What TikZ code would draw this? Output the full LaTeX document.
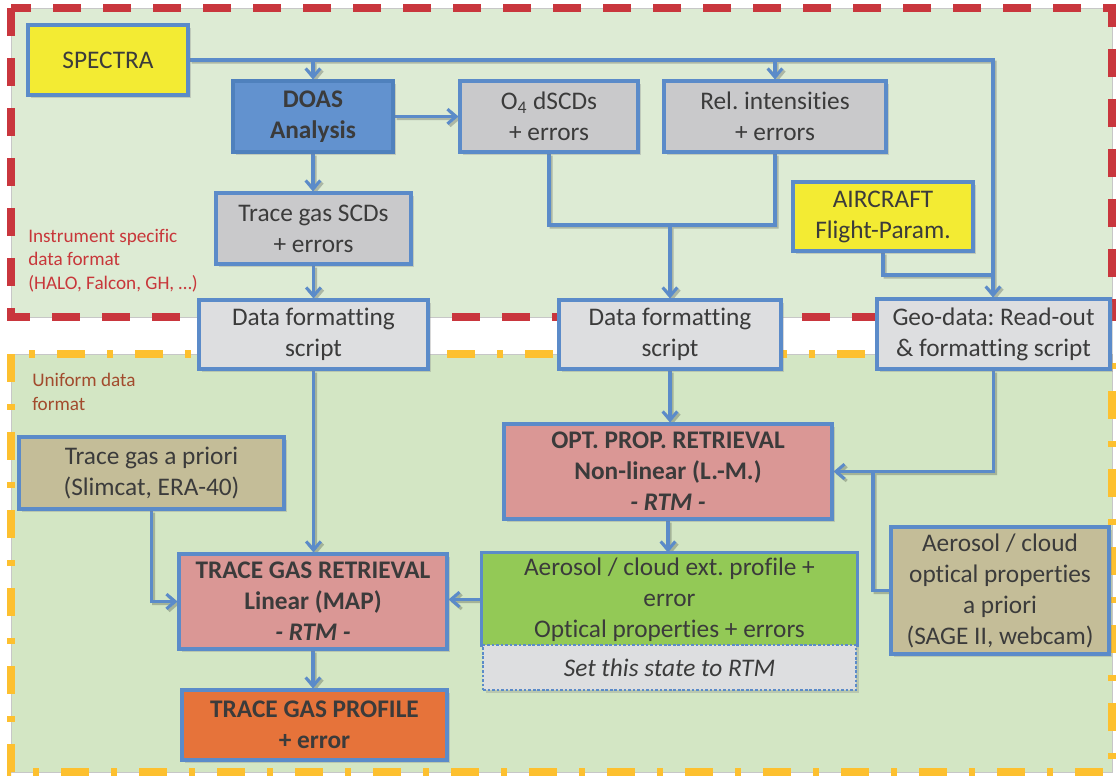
\documentclass[tikz,border=0pt]{standalone}
\usepackage{fontspec}
\setmainfont{Carlito}[Ligatures=NoCommon]
\frenchspacing
\usetikzlibrary{arrows.meta,shadows}
\pgfdeclarelayer{back}
\pgfsetlayers{back,main}

\definecolor{edge}{HTML}{5B8BC9}
\definecolor{edgedark}{HTML}{4F81BD}
\definecolor{ink}{HTML}{3B3B3B}
\definecolor{zoneA}{HTML}{DDEBD4}
\definecolor{zoneB}{HTML}{D3E6C4}
\definecolor{zoneAline}{HTML}{C9363D}
\definecolor{zoneBline}{HTML}{FDC02F}
\definecolor{labA}{HTML}{C8373A}
\definecolor{labB}{HTML}{A24B2D}
\definecolor{yel}{HTML}{F3EB33}
\definecolor{doasblue}{HTML}{6292CF}
\definecolor{midgray}{HTML}{C9C9CB}
\definecolor{lightgray}{HTML}{DDDEE0}
\definecolor{priori}{HTML}{C4BD98}
\definecolor{rose}{HTML}{DA9795}
\definecolor{orng}{HTML}{E6733A}
\definecolor{leaf}{HTML}{93C956}

\newcommand\bodyfont{\fontsize{19}{23.25}\selectfont}
\newcommand\labelfont{\fontsize{14.4}{17.6}\selectfont}

\tikzset{
  box/.style={draw=edge, line width=2.3pt, inner sep=0pt, text=ink,
    align=center, font=\bodyfont,
    drop shadow={shadow xshift=2pt, shadow yshift=-2pt, opacity=0.3}},
  strongbox/.style={box, font=\bodyfont\bfseries},
  size/.style 2 args={minimum width=#1, minimum height=#2},
  zonelabel/.style={inner sep=0pt, align=left, anchor=north west, font=\labelfont},
  link/.style={draw=edge, line width=2.3pt},
  headed/.style={-{Straight Barb[length=6.5pt,width=11pt]}},
  linkshade/.style={draw=black, line width=2.3pt,
    transform canvas={shift={(1.6pt,-1.6pt)}}},
}

% all connectors; #1 is the line style
\newcommand\flowlinks[1]{%
  \draw[#1,headed] (spectra.east) -- (bus) -- (bus |- geo.north);
  \draw[#1,headed] (doas.north |- spectra.east) -- (doas.north);
  \draw[#1,headed] (rel.north |- spectra.east) -- (rel.north);
  \draw[#1,headed] (doas.east) -- (o4.west);
  \draw[#1,headed] (doas.south) -- (doas.south |- scd.north);
  \draw[#1,headed] (scd.south) -- (scd.south |- dfl.north);
  \draw[#1] (o4.south) -- (o4.south |- merge) -- (rel.south |- merge) -- (rel.south);
  \draw[#1,headed] (merge) -- (dfm.north);
  \draw[#1] (air.south) |- (airjoin);
  \draw[#1,headed] (dfl.south) -- (dfl.south |- tgr.north);
  \draw[#1,headed] (apri.south) |- (tgr.west);
  \draw[#1,headed] (aero.west) -- (tgr.east |- aero.west);
  \draw[#1,headed] (tgr.south) -- (tgr.south |- prof.north);
  \draw[#1,headed] (dfm.south) -- (dfm.south |- opt.north);
  \draw[#1,headed] (geo.south) |- (opt.east);
  \draw[#1] (aer.west) -| (aerjoin);
  \draw[#1,headed] (opt.south) -- (opt.south |- aero.north);
}

\begin{document}
\begin{tikzpicture}[x=0.75pt,y=-0.75pt]
\useasboundingbox (0,0) rectangle (1118,778);

% the two zones
\begin{pgfonlayer}{back}
  \fill[white] (0,0) rectangle (1118,778);
  \fill[zoneA] (11,8) rectangle (1112,317);
  \draw[black!22, line width=0.6pt] (11,8) rectangle (1112,317);
  \draw[zoneAline, line width=5.5pt, dash pattern=on 21pt off 16.5pt]
    (11,8) rectangle (1112,317);
  \fill[zoneB] (11,354) rectangle (1112,772);
  \draw[black!22, line width=0.6pt] (11,354) rectangle (1112,772);
  \draw[zoneBline, line width=5.5pt,
    dash pattern=on 21pt off 16.5pt on 4.5pt off 16.5pt]
    (11,354) rectangle (1112,772);
\end{pgfonlayer}

\node[zonelabel, text=labA] (labelA) at (28,229)
  {Instrument specific\\data format\\(HALO, Falcon, GH, …)};
\node[zonelabel, text=labB] (labelB) at (32,373) {Uniform data\\format};

% boxes
\node[box, fill=yel, size={120pt}{52.5pt}] (spectra) at (108,60) {SPECTRA};
\node[strongbox, fill=doasblue, draw=edgedark, size={120pt}{53.25pt}] (doas) at (313,116.5) {DOAS\\Analysis};
\node[box, fill=midgray, size={133.5pt}{53.25pt}] (o4) at (549,116.5) {O\textsubscript{4} dSCDs\\+ errors};
\node[box, fill=midgray, size={166.5pt}{53.25pt}] (rel) at (775,116.5) {Rel. intensities\\+ errors};
\node[box, fill=midgray, size={146.25pt}{53.25pt}] (scd) at (313.5,228.5) {Trace gas SCDs\\+ errors};
\node[box, fill=yel, size={135pt}{51.75pt}] (air) at (883,216.5) {AIRCRAFT\\Flight-Param.};
\node[box, fill=lightgray, size={171.75pt}{51.75pt}] (dfl) at (313.5,334.5) {Data formatting\\script};
\node[box, fill=lightgray, size={166.5pt}{51.75pt}] (dfm) at (670,334.5) {Data formatting\\script};
\node[box, fill=lightgray, size={174.75pt}{52.5pt}] (geo) at (993.5,334) {Geo-data: Read-out\\\& formatting script};
\node[box, fill=priori, size={198.75pt}{54pt}] (apri) at (151.5,473) {Trace gas a priori\\(Slimcat, ERA-40)};
\node[strongbox, fill=rose, size={201pt}{71.25pt}] (tgr) at (313,601.5)
  {TRACE GAS RETRIEVAL\\Linear (MAP)\\\textit{- RTM -}};
\node[strongbox, fill=orng, size={198.75pt}{52.5pt}] (prof) at (314.5,725) {TRACE GAS PROFILE\\+ error};
\node[strongbox, fill=rose, size={246pt}{71.25pt}] (opt) at (668,471.5)
  {OPT. PROP. RETRIEVAL\\Non-linear (L.-M.)\\\textit{- RTM -}};
\node[box, draw=none, fill=leaf, size={279.75pt}{68.25pt}] (aero) at (669.5,599.5)
  {Aerosol / cloud ext. profile +\\error\\Optical properties + errors};
\draw[edge, line width=2.3pt] (aero.south west) -- (aero.north west)
  -- (aero.north east) -- (aero.south east);
\node[box, fill=lightgray, line width=1.8pt, dash pattern=on 2pt off 1.4pt,
  size={279.75pt}{33.75pt}] (rtm) at (669.5,667.5) {\itshape Set this state to RTM};
\node[box, fill=priori, size={163.5pt}{95.25pt}] (aer) at (1000,590.5)
  {Aerosol / cloud\\optical properties\\a priori\\(SAGE II, webcam)};

% junction points of the connectors
\coordinate (bus) at (993,60);
\coordinate (merge) at (670,225);
\coordinate (airjoin) at (993,275);
\coordinate (aerjoin) at (873,471.5);

\begin{pgfonlayer}{back}
  \begin{scope}[transparency group, opacity=0.22]
    \flowlinks{linkshade}
  \end{scope}
  \flowlinks{link}
\end{pgfonlayer}
\end{tikzpicture}
\end{document}
